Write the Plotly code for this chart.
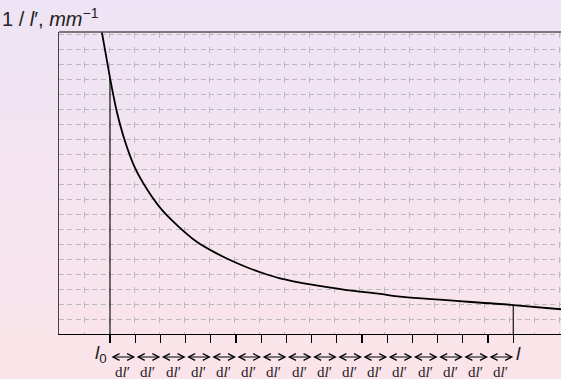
import plotly.graph_objects as go

# ---- data (in grid units) ----
curve_x = [1.708, 2.04, 2.308, 2.64, 3.04, 3.572, 4.108, 4.772, 5.508, 6.172, 6.84,
           7.508, 8.172, 8.84, 10.172, 11.508, 12.84, 13.64, 18.17, 20.08]
curve_y = [20.18, 17.07, 14.85, 12.85, 11.07, 9.51, 8.29, 7.18, 6.15, 5.49, 4.93,
           4.45, 4.05, 3.71, 3.27, 2.93, 2.67, 2.49, 1.93, 1.65]
l0_pos = 2.04
l_pos = 18.17
l0_height = 17.07
l_height = 1.93
n_intervals = 16
tick_positions = [l0_pos + (l_pos - l0_pos) * k / n_intervals for k in range(n_intervals + 1)]
interval_label = "d<i>l</i>′"
y_title = "1 / <i>l</i>′, <i>mm</i><sup>−1</sup>"

W, H = 561, 379
ML, MR, MT, MB = 59, 0, 32, 45
PW = W - ML - MR
PH = H - MT - MB

def py(pix):  # pixel y -> paper y
    return (H - MB - pix) / PH

def px(pix):
    return (pix - ML) / PW

fig = go.Figure()

fig.add_trace(go.Scatter(x=curve_x, y=curve_y, mode="lines", line=dict(color="black", width=1.8, shape="spline", smoothing=0.6),
                         hoverinfo="skip", showlegend=False))
fig.add_trace(go.Scatter(x=[l0_pos, l0_pos], y=[0, l0_height], mode="lines", line=dict(color="black", width=1.1),
                         xaxis="x2", showlegend=False, hoverinfo="skip"))
fig.add_trace(go.Scatter(x=[l_pos, l_pos], y=[0, l_height], mode="lines", line=dict(color="black", width=1.1),
                         xaxis="x2", showlegend=False, hoverinfo="skip"))

# background gradient
shapes = []
N = 60
top = (237, 228, 245)
bot = (251, 228, 233)
for i in range(N):
    t = (i + 0.5) / N
    c = tuple(round(top[j] + (bot[j] - top[j]) * t) for j in range(3))
    y0p = i * H / N
    y1p = (i + 1) * H / N + 0.6
    shapes.append(dict(type="rect", xref="paper", yref="paper", x0=px(0), x1=px(W + 1),
                       y0=py(y1p), y1=py(y0p), fillcolor="rgb(%d,%d,%d)" % c,
                       line=dict(width=0), layer="below"))
# top dark border
shapes.append(dict(type="line", xref="paper", yref="paper", x0=0, x1=1, y0=1, y1=1,
                   line=dict(color="#555555", width=1.3)))
fig.update_layout(shapes=shapes)

ann = []
arrow_y = py(357)
for k in range(n_intervals):
    ann.append(dict(x=tick_positions[k + 1], y=arrow_y, xref="x", yref="paper",
                    ax=tick_positions[k], ay=0, axref="x", ayref="pixel",
                    text="", showarrow=True, arrowhead=5, startarrowhead=5,
                    arrowside="end+start", arrowsize=1.3, startarrowsize=1.3,
                    arrowwidth=1, arrowcolor="black",
                    standoff=0, startstandoff=0))
    ann.append(dict(x=(tick_positions[k] + tick_positions[k + 1]) / 2, y=py(372), xref="x", yref="paper",
                    text=interval_label, showarrow=False, xanchor="center", yanchor="middle",
                    font=dict(family="Liberation Serif", size=15, color="#222")))
ann.append(dict(x=l0_pos, y=py(354), xref="x", yref="paper", text="<i>l</i><sub>0</sub>",
                showarrow=False, xanchor="right", yanchor="middle", xshift=-1,
                font=dict(family="Liberation Sans", size=19, color="#222")))
ann.append(dict(x=l_pos, y=py(354), xref="x", yref="paper", text="<i>l</i>",
                showarrow=False, xanchor="left", yanchor="middle", xshift=1,
                font=dict(family="Liberation Sans", size=19, color="#222")))
ann.append(dict(x=px(0), y=py(18), xref="paper", yref="paper", text=y_title,
                showarrow=False, xanchor="left", yanchor="middle",
                font=dict(family="Liberation Sans", size=20, color="#222")))

fig.update_layout(
    width=W, height=H,
    margin=dict(l=ML, r=MR, t=MT, b=MB, pad=0),
    paper_bgcolor="rgb(244,228,239)",
    plot_bgcolor="rgba(0,0,0,0)",
    annotations=ann,
    showlegend=False,
    xaxis=dict(range=[0, PW / 25], dtick=1, tick0=0, showgrid=True, gridcolor="#bcb8c0",
               griddash="6px,9px", gridwidth=1, zeroline=False, showticklabels=False,
               ticks="", showline=True, linecolor="black", linewidth=1.3, fixedrange=True),
    xaxis2=dict(range=[0, PW / 25], overlaying="x", anchor="y", side="bottom",
                tickmode="array", tickvals=tick_positions, ticks="outside", ticklen=8,
                tickwidth=1.2, tickcolor="black", showticklabels=False, showgrid=False,
                zeroline=False, showline=False, fixedrange=True),
    yaxis=dict(range=[0, PH / 15], dtick=1, tick0=0, showgrid=True, gridcolor="#bcb8c0",
               griddash="5px,3.33px", gridwidth=1, zeroline=False, showticklabels=False,
               ticks="", showline=True, linecolor="#444", linewidth=1.2, fixedrange=True),
)

fig.write_html("out.html", config={"displayModeBar": False, "staticPlot": True},
               post_script="document.body.style.margin='0';document.body.style.padding='0';"
                           "document.body.style.overflow='hidden';")
